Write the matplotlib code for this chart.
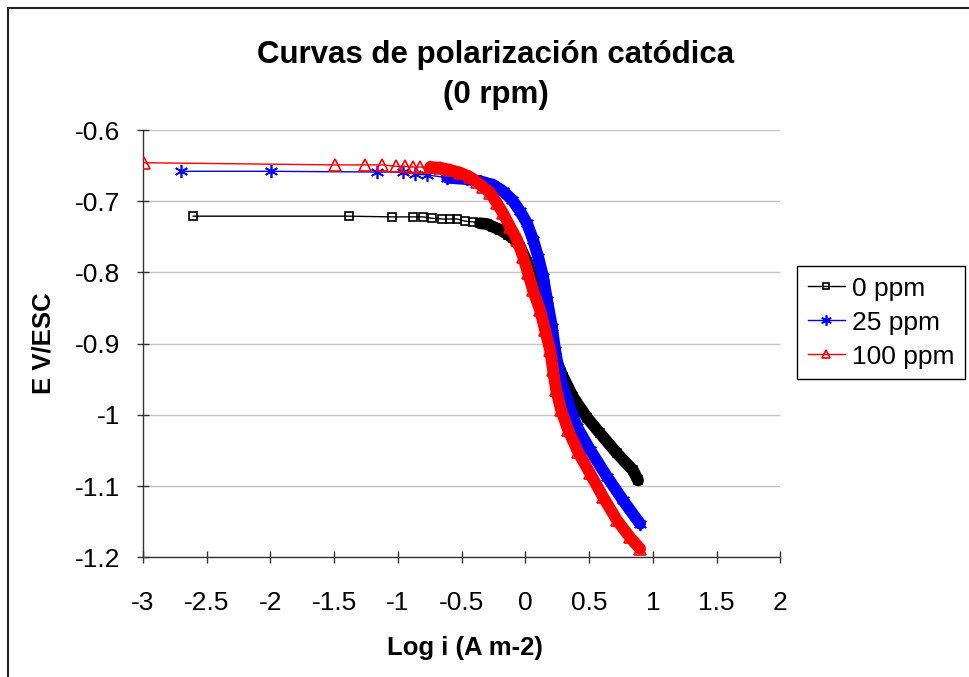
import matplotlib
matplotlib.use("Agg")
import matplotlib.pyplot as plt
from matplotlib.lines import Line2D
from matplotlib.patches import Rectangle

plt.rcParams['font.family'] = ['Liberation Sans', 'DejaVu Sans']

# ---------------- data ----------------
labels = ["0 ppm", "25 ppm", "100 ppm"]

x0 = [-2.606, -1.383, -1.047, -0.881, -0.802, -0.732, -0.653, -0.591, -0.536,
      -0.473, -0.410, -0.355, -0.301, -0.253, -0.198, -0.136, -0.096, -0.042,
      0.013, 0.060, 0.115, 0.155, 0.194, 0.233, 0.249, 0.296, 0.374, 0.484,
      0.586, 0.719, 0.845, 0.884]
y0 = [-0.721, -0.721, -0.722, -0.722, -0.722, -0.724, -0.725, -0.725, -0.725,
      -0.728, -0.729, -0.731, -0.732, -0.736, -0.740, -0.747, -0.752, -0.764,
      -0.785, -0.811, -0.839, -0.867, -0.895, -0.920, -0.927, -0.947, -0.975,
      -1.004, -1.026, -1.054, -1.078, -1.092]
dense0 = 11

x25 = [-2.700, -1.994, -1.163, -0.959, -0.865, -0.771, -0.614, -0.457, -0.355,
       -0.253, -0.175, -0.104, -0.042, 0.013, 0.060, 0.100, 0.139, 0.170,
       0.209, 0.233, 0.272, 0.327, 0.405, 0.507, 0.641, 0.766, 0.900]
y25 = [-0.658, -0.658, -0.659, -0.659, -0.662, -0.663, -0.667, -0.669, -0.672,
       -0.677, -0.686, -0.698, -0.714, -0.731, -0.754, -0.778, -0.806, -0.839,
       -0.877, -0.909, -0.947, -0.979, -1.017, -1.049, -1.087, -1.120, -1.153]
dense25 = 6

x100 = [-2.990, -1.494, -1.258, -1.124, -1.014, -0.944, -0.881, -0.826, -0.747,
        -0.669, -0.591, -0.512, -0.434, -0.379, -0.332, -0.277, -0.222, -0.175,
        -0.120, -0.065, -0.018, 0.021, 0.060, 0.115, 0.155, 0.194, 0.217, 0.241,
        0.280, 0.335, 0.413, 0.507, 0.609, 0.719, 0.821, 0.900]
y100 = [-0.646, -0.649, -0.649, -0.649, -0.651, -0.651, -0.652, -0.652, -0.652,
        -0.653, -0.656, -0.660, -0.666, -0.673, -0.680, -0.688, -0.703, -0.717,
        -0.736, -0.754, -0.778, -0.801, -0.825, -0.853, -0.881, -0.909, -0.937,
        -0.965, -0.993, -1.021, -1.052, -1.082, -1.115, -1.148, -1.172, -1.188]
dense100 = 8

xticks = [-3, -2.5, -2, -1.5, -1, -0.5, 0, 0.5, 1, 1.5, 2]
xticklabels = ["-3", "-2.5", "-2", "-1.5", "-1", "-0.5", "0", "0.5", "1", "1.5", "2"]
yticks = [-0.6, -0.7, -0.8, -0.9, -1.0, -1.1, -1.2]
yticklabels = ["-0.6", "-0.7", "-0.8", "-0.9", "-1", "-1.1", "-1.2"]

# ---------------- figure ----------------
W, H = 969, 677
fig = plt.figure(figsize=(W / 100, H / 100), dpi=100)
fig.patch.set_facecolor('white')

# outer chart border (only left & top visible in the reference)
fig.patches.append(Rectangle((8 / W, -0.2), 1.5, 1.2 - 8 / H,
                             transform=fig.transFigure, fill=False,
                             edgecolor='#222222', linewidth=1.5, clip_on=False))

ax = fig.add_axes([143 / W, 1 - 557.3 / H, (780.3 - 143) / W, (557.3 - 130) / H])
ax.set_xlim(-3, 2)
ax.set_ylim(-1.2, -0.6)

series = [
    (x0, y0, dense0, 'black', 's', 6, 1.2, 'none'),
    (x25, y25, dense25, 'blue', (6, 2, 0), 9.5, 1.2, 'blue'),
    (x100, y100, dense100, 'red', '^', 8, 1.2, 'none'),
]
handles = []
for i, (xs, ys, d, col, mk, ms, mew, mfc) in enumerate(series):
    z = 3 + 2 * i
    ax.plot(xs, ys, color=col, lw=1.0, marker=mk, markersize=ms,
            markeredgewidth=mew, markerfacecolor=mfc, markeredgecolor=col,
            zorder=z)
    ax.plot(xs[d:], ys[d:], color=col, lw=8.5, solid_capstyle='round',
            solid_joinstyle='round', zorder=z + 0.5)
    handles.append(Line2D([0], [0], color=col, lw=1.0, marker=mk,
                          markersize=ms * 0.8, markeredgewidth=mew,
                          markerfacecolor=mfc, markeredgecolor=col))

ax.set_xticks(xticks)
ax.set_xticklabels(xticklabels)
ax.set_yticks(yticks)
ax.set_yticklabels(yticklabels)
ax.yaxis.grid(True, color='#c4c4c4', lw=1.0)
ax.set_axisbelow(True)
for s in ['top', 'right']:
    ax.spines[s].set_visible(False)
for s in ['left', 'bottom']:
    ax.spines[s].set_color('#333333')
    ax.spines[s].set_linewidth(1.0)
ax.tick_params(axis='y', direction='inout', length=9, width=1, color='#333333',
               labelsize=19, pad=12)
ax.tick_params(axis='x', direction='inout', length=9, width=1, color='#333333',
               labelsize=19, pad=20)

ax.set_xlabel("Log i (A m-2)", fontsize=18.5, fontweight='bold')
ax.set_ylabel("E V/ESC", fontsize=18.5, fontweight='bold')
ax.xaxis.set_label_coords((465 - 143) / (780.3 - 143), (557.3 - 648) / 427.3)
ax.xaxis.label.set_va('center')
ax.yaxis.set_label_coords((43 - 143) / (780.3 - 143), (557.3 - 343) / 427.3)
ax.yaxis.label.set_va('center')
ax.yaxis.label.set_ha('center')

fig.text(496 / W, 1 - 55 / H, "Curvas de polarización catódica", ha='center',
         va='center', fontsize=22.5, fontweight='bold')
fig.text(496 / W, 1 - 95 / H, "(0 rpm)", ha='center', va='center',
         fontsize=22.5, fontweight='bold')

leg = fig.legend(handles, labels, loc='upper left',
                 bbox_to_anchor=(797 / W, 1 - 266 / H),
                 bbox_transform=fig.transFigure, borderaxespad=0,
                 fontsize=19, frameon=True, fancybox=False, shadow=False,
                 framealpha=1, edgecolor='black', handlelength=1.4,
                 handletextpad=0.3, labelspacing=0.38, borderpad=0.4)
leg.get_frame().set_linewidth(1.0)

fig.savefig("out.png", dpi=100)
